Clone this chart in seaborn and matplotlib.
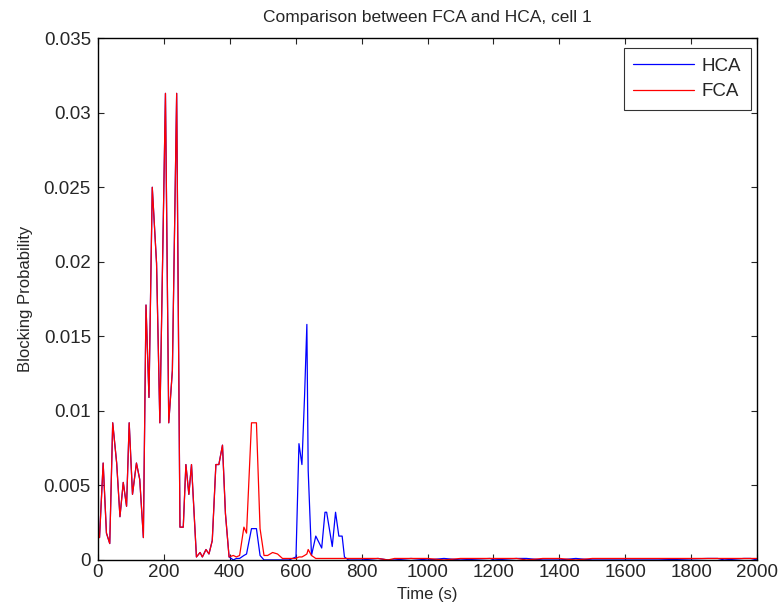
import numpy as np
import pandas as pd
import matplotlib
matplotlib.use('Agg')
import matplotlib.pyplot as plt
import seaborn as sns
from matplotlib.ticker import FuncFormatter

# time points (s)
t = [5, 16, 26, 36, 45, 57, 67, 77, 87, 95, 105, 117, 127, 138, 146, 155, 165, 178, 188,
     205, 215, 226, 239, 249, 259, 267, 276, 284, 299, 310, 317, 328, 337, 347, 358, 367,
     378, 387, 398, 411, 420, 430, 443, 451, 466, 481, 492, 504, 515, 530, 545, 560, 580,
     601, 610, 619, 627, 634, 638, 648, 661, 679, 689, 694, 711, 721, 731, 741, 748, 760,
     800, 850, 880, 900, 950, 1000, 1050, 1100, 1190, 1200, 1270, 1300, 1350, 1400, 1450,
     1500, 1700, 1850, 1880, 1900, 1960, 1980, 2000]

# blocking probability, HCA
hca = [.0015, .0065, .0018, .0011, .0092, .0065, .0029, .0052, .0036, .0092, .0044, .0065,
       .0054, .0015, .0171, .0109, .0250, .0199, .0092, .0313, .0092, .0127, .0313, .0022,
       .0022, .0064, .0044, .0064, .0002, .0005, .0002, .0007, .0004, .0013, .0064, .0064,
       .0077, .0031, .0002, .0000, .0001, .0001, .0003, .0004, .0021, .0021, .0003, .0000,
       .0000, .0000, .0000, .0000, .0000, .0002, .0078, .0064, .0110, .0158, .0060, .0003,
       .0016, .0008, .0032, .0032, .0009, .0032, .0016, .0016, .0002, .0000,
       .0000, .0001, .0000, .0000, .0001, .0000, .0001, .0000, .0001, .0000, .0001, .0001,
       .0000, .0000, .0001, .0000, .0000, .0001, .0001, .0000, .0001, .0001, .0000]

# blocking probability, FCA
fca = [.0015, .0065, .0018, .0011, .0092, .0065, .0029, .0052, .0036, .0092, .0044, .0065,
       .0054, .0015, .0171, .0109, .0250, .0199, .0092, .0313, .0092, .0127, .0313, .0022,
       .0022, .0064, .0044, .0064, .0002, .0005, .0002, .0007, .0004, .0013, .0064, .0064,
       .0077, .0031, .0002, .0003, .0002, .0003, .0022, .0018, .0092, .0092, .0021, .0003,
       .0003, .0005, .0004, .0001, .0001, .0001, .0002, .0002, .0003, .0004, .0007, .0003,
       .0001, .0001, .0001, .0001, .0001, .0001, .0001, .0001, .0001, .0001,
       .0001, .0001, .0000, .0001, .0001, .0001, .0000, .0001, .0001, .0001, .0001, .0000,
       .0001, .0001, .0000, .0001, .0001, .0001, .0001, .0001, .0001, .0001, .0001]

df = pd.DataFrame({'t': t, 'HCA': hca, 'FCA': fca})

sns.set_style('ticks')
plt.rcParams['font.family'] = ['Liberation Sans', 'DejaVu Sans']
plt.rcParams['xtick.direction'] = 'in'
plt.rcParams['ytick.direction'] = 'in'

fig = plt.figure(figsize=(7.83, 6.16), dpi=100)
ax = fig.add_axes([0.125, 0.091, 0.842, 0.847])

sns.lineplot(data=df, x='t', y='HCA', color='blue', lw=0.9, label='HCA', ax=ax)
sns.lineplot(data=df, x='t', y='FCA', color='red', lw=0.9, label='FCA', ax=ax)

ax.set_xlim(0, 2000)
ax.set_ylim(0, 0.035)
ax.set_xticks(np.arange(0, 2001, 200))
ax.set_yticks(np.arange(0, 0.0351, 0.005))
ax.yaxis.set_major_formatter(FuncFormatter(lambda v, p: '%g' % round(v, 4)))
ax.tick_params(axis='both', which='both', top=True, right=True, length=4,
               width=0.8, labelsize=13.5, pad=3)
ax.tick_params(axis='y', pad=5)
for s in ax.spines.values():
    s.set_linewidth(1.0)
    s.set_color('black')

ax.set_title('Comparison between FCA and HCA, cell 1', fontsize=12.5, pad=12)
ax.set_xlabel('Time (s)', fontsize=12, labelpad=4)
ax.set_ylabel('Blocking Probability', fontsize=12, labelpad=8)

leg = ax.legend(loc='upper right', fontsize=13.5, handlelength=3.25, handletextpad=0.4,
                frameon=True, fancybox=False, edgecolor='black', borderpad=0.5,
                labelspacing=0.45, borderaxespad=0, bbox_to_anchor=(0.99, 0.981))
leg.get_frame().set_linewidth(0.8)

fig.savefig('out.png', dpi=100)
